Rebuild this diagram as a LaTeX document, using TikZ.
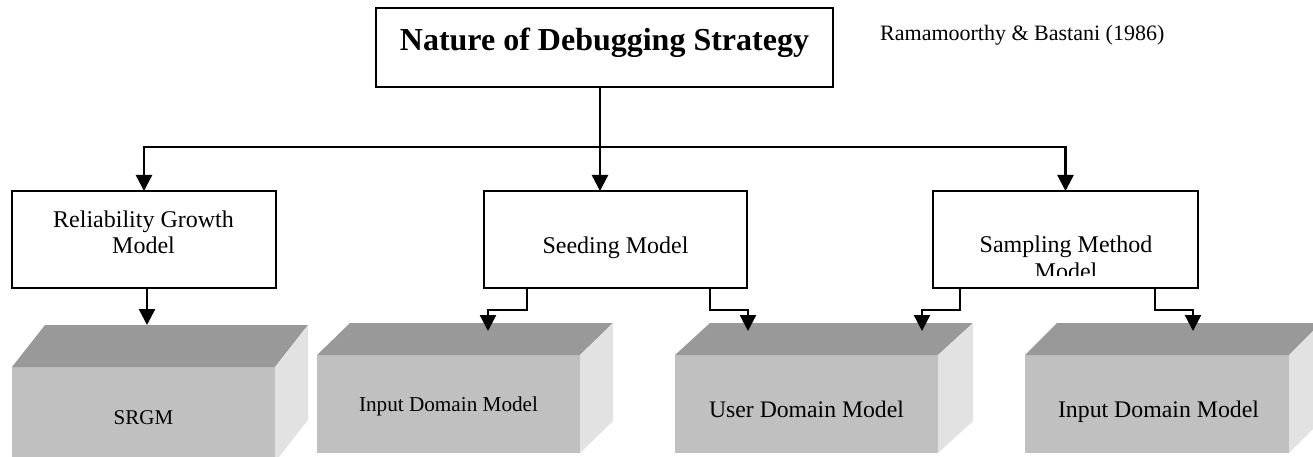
\documentclass[tikz,border=0pt]{standalone}
\usepackage{fontspec}
\setmainfont{Liberation Serif}
\usetikzlibrary{arrows.meta,calc}

\definecolor{slabtop}{HTML}{999999}
\definecolor{slabfront}{HTML}{C0C0C0}
\definecolor{slabside}{HTML}{E2E2E2}

\tikzset{
  x=1pt, y=-1pt,
  box/.style={draw, line width=2pt, rectangle, inner sep=0pt, outer sep=0pt, fill=white},
  slabface/.style={fill=slabfront, draw=none, rectangle, inner sep=0pt, outer sep=0pt},
  link/.style={line width=2.4pt, -{Triangle[width=16pt,length=16pt]}},
  trunkline/.style={line width=2.4pt},
  boxtext/.style={anchor=base, inner sep=0pt, font=\fontsize{24}{26}\selectfont},
}

% \slab{name}{x1}{y1}{x2}{y2}{dx}{dy}: a shaded 3D block, front face named
\newcommand\slab[7]{%
  \node[slabface, minimum width={(#4-#2)*1pt}, minimum height={(#5-#3)*1pt}]
    (#1) at ({(#2+#4)/2},{(#3+#5)/2}) {};
  \fill[slabtop] (#1.north west) -- ++(#6,-#7) -- ++({#4-#2},0) -- (#1.north east) -- cycle;
  \fill[slabside] (#1.north east) -- ++(#6,-#7) -- ++(0,{#5-#3}) -- (#1.south east) -- cycle;
}

\begin{document}
\begin{tikzpicture}
\useasboundingbox (0,0) rectangle (1313,457);

% lower blocks
\slab{srgm}{12}{367}{275}{462}{33}{42}
\slab{inA}{317}{355}{580}{453}{33}{32}
\slab{user}{675}{355}{938}{453}{35}{32}
\slab{inB}{1025}{355}{1289}{453}{32}{32}

\node[anchor=base, inner sep=0pt, font=\fontsize{21}{24}\selectfont] (srgmt) at (143.5,424) {SRGM};
\node[anchor=base, inner sep=0pt, font=\fontsize{21.2}{24}\selectfont] (inAt) at (448.5,411) {Input Domain Model};
\node[anchor=base, inner sep=0pt, font=\fontsize{23.7}{26}\selectfont] (usert) at (806.5,417) {User Domain Model};
\node[anchor=base, inner sep=0pt, font=\fontsize{23.8}{26}\selectfont] (inBt) at (1158.5,417) {Input Domain Model};

% upper boxes
\node[box, minimum width=457pt, minimum height=79pt] (root) at (604.5,47.5) {};
\node[box, minimum width=264pt, minimum height=97pt] (rel) at (144,239.5) {};
\node[box, minimum width=263pt, minimum height=97pt] (seed) at (615.5,239.5) {};
\node[box, minimum width=265pt, minimum height=97pt] (samp) at (1065.5,239.5) {};

\node[anchor=base, inner sep=0pt, font=\fontsize{32}{38}\selectfont\bfseries] (title) at (604.5,50.5) {Nature of Debugging Strategy};
\node[anchor=base west, inner sep=0pt, font=\fontsize{22}{26}\selectfont] (cite) at (880,41) {Ramamoorthy \& Bastani (1986)};

\node[boxtext] (rel1) at (143.5,227) {Reliability Growth};
\node[boxtext] (rel2) at (143.5,253) {Model};
\node[boxtext] (seedt) at (615.5,253) {Seeding Model};
\node[boxtext] (samp1) at (1066,252) {Sampling Method};
\begin{scope}
  \clip (samp.north west) rectangle ($(samp.south east)+(0,-13)$);
  \node[boxtext] (samp2) at (1066,279) {Model};
\end{scope}

% top-level connectors
\coordinate (fork) at (600,147);
\draw[trunkline] (root.south -| fork) -- (fork);
\draw[link] (fork) -- (seed.north -| fork);
\draw[link] (fork) -| (rel.north);
\draw[link] (fork) -| (samp.north);

% connectors down to the blocks
\coordinate (tipS) at (147,325);
\coordinate (tipA) at (488,331);
\coordinate (tipU1) at (748,331);
\coordinate (tipU2) at (922,331);
\coordinate (tipB) at (1193,331);

\draw[link] (rel.south -| tipS) -- (tipS);
\draw[link] ($(seed.south)+(-88.5,0)$) -- ++(0,22) -| (tipA);
\draw[link] ($(seed.south)+(94.5,0)$) -- ++(0,22) -| (tipU1);
\draw[link] ($(samp.south)+(-105.5,0)$) -- ++(0,22) -| (tipU2);
\draw[link] ($(samp.south)+(89.5,0)$) -- ++(0,22) -| (tipB);
\end{tikzpicture}
\end{document}
